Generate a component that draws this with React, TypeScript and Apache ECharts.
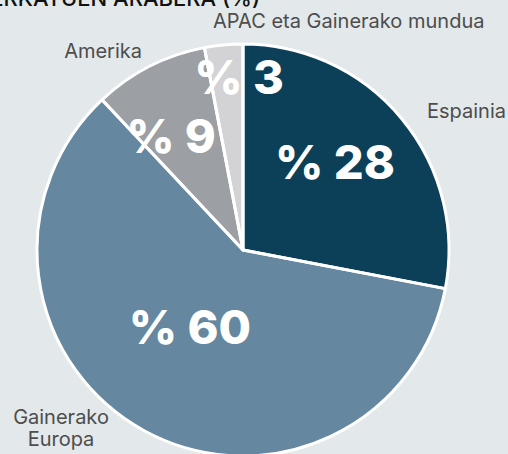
import React, { useEffect, useRef } from "react";
import * as echarts from "echarts";

const categories = ["Espainia", "Gainerako Europa", "Amerika", "APAC eta Gainerako mundua"];
const shares = [28, 60, 9, 3];
const colors = ["#0b4058", "#6587a0", "#9c9fa3", "#d3d3d5"];
const titleText = "SALMENTAK MERKATUEN ARABERA (%)";

// label placement (styling only)
const insidePos = [
  { x: 335, y: 161 },
  { x: 190, y: 326 },
  { x: 171, y: 135 },
  { x: 239, y: 76 },
];
const outsidePos = [
  { x: 427, y: 111, align: "left" },
  { x: 61, y: 428, align: "center" },
  { x: 142, y: 51, align: "right" },
  { x: 213, y: 21, align: "left" },
];

export default function App() {
  const ref = useRef<HTMLDivElement>(null);
  useEffect(() => {
    if (!ref.current) return;
    const chart = echarts.init(ref.current, null, { renderer: "svg" });
    const data = categories.map((name, i) => ({
      name,
      value: shares[i],
      itemStyle: { color: colors[i] },
    }));
    chart.setOption({
      animation: false,
      backgroundColor: "#e3e8ea",
      title: {
        text: titleText,
        right: 243,
        top: -18,
        textStyle: { fontFamily: "Inter", fontSize: 22, fontWeight: 500, color: "#111" },
      },
      series: [
        {
          type: "pie",
          center: [243, 250],
          radius: [0, 206],
          startAngle: 90,
          clockwise: true,
          avoidLabelOverlap: false,
          z: 2,
          data,
          itemStyle: { borderWidth: 0 },
          label: {
            show: true,
            position: "inside",
            formatter: (p: any) => "% " + p.value,
            color: "#ffffff",
            fontFamily: "Inter",
            fontWeight: 800,
            fontSize: 47,
          },
          labelLine: { show: false },
          labelLayout: (p: any) => ({
            x: insidePos[p.dataIndex].x,
            y: insidePos[p.dataIndex].y,
            align: "center",
            verticalAlign: "middle",
          }),
          emphasis: { disabled: true },
          silent: true,
        },
        {
          type: "pie",
          center: [243, 250],
          radius: [0, 206],
          startAngle: 90,
          clockwise: true,
          avoidLabelOverlap: false,
          z: 3,
          data: categories.map((name, i) => ({ name, value: shares[i] })),
          itemStyle: { color: "rgba(0,0,0,0)", borderColor: "#ffffff", borderWidth: 3 },
          label: {
            show: true,
            position: "outside",
            formatter: (p: any) => (p.name === "Gainerako Europa" ? "Gainerako\nEuropa" : p.name),
            color: "#4d4d4d",
            fontFamily: "Inter",
            fontWeight: 400,
            fontSize: 20,
            lineHeight: 22,
          },
          labelLine: { show: false },
          labelLayout: (p: any) => ({
            x: outsidePos[p.dataIndex].x,
            y: outsidePos[p.dataIndex].y,
            align: outsidePos[p.dataIndex].align,
            verticalAlign: "middle",
          }),
          emphasis: { disabled: true },
          silent: true,
        },
      ],
    });
    return () => chart.dispose();
  }, []);
  return (
    <div
      ref={ref}
      style={{ position: "fixed", left: 0, top: 0, width: 508, height: 454 }}
    />
  );
}
